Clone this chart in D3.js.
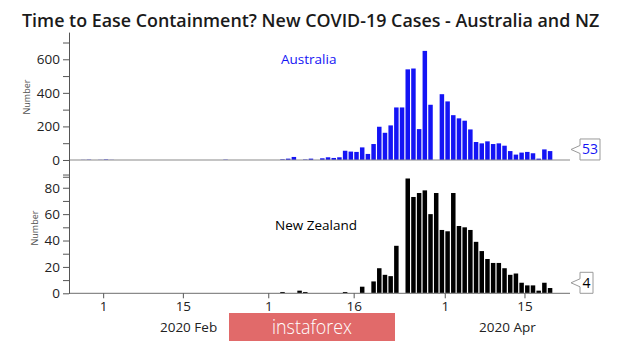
<!DOCTYPE html>
<html>
<head>
<meta charset="utf-8">
<script src="https://cdn.jsdelivr.net/npm/d3@7"></script>
<style>
  body { margin: 0; background: #fff; }
  svg { display: block; }
  text { font-family: "Open Sans", "Noto Sans", sans-serif; }
</style>
</head>
<body>
<svg id="chart" width="620" height="342"></svg>
<script>
// Daily new cases, Australia
const ausDates = ["2020-01-28","2020-01-29","2020-01-31","2020-02-01","2020-02-02","2020-02-22",
  "2020-03-03","2020-03-04","2020-03-05","2020-03-07","2020-03-08","2020-03-10","2020-03-11",
  "2020-03-12","2020-03-13","2020-03-14","2020-03-15","2020-03-16","2020-03-17","2020-03-18",
  "2020-03-19","2020-03-20","2020-03-21","2020-03-22","2020-03-23","2020-03-24","2020-03-25",
  "2020-03-26","2020-03-27","2020-03-28","2020-03-29","2020-03-30","2020-03-31","2020-04-01",
  "2020-04-02","2020-04-03","2020-04-04","2020-04-05","2020-04-06","2020-04-07","2020-04-08",
  "2020-04-09","2020-04-10","2020-04-11","2020-04-12","2020-04-13","2020-04-14","2020-04-15",
  "2020-04-16","2020-04-17","2020-04-18","2020-04-19"];
const ausCases = [1,2,1,3,1,2,
  4,8,18,3,8,10,16,
  12,16,55,50,48,75,36,
  95,198,162,206,313,313,540,
  545,184,650,329,0,392,349,
  267,248,234,182,107,99,111,
  95,99,85,53,32,44,48,
  40,8,63,53];

// Daily new cases, New Zealand
const nzDates = ["2020-03-03","2020-03-06","2020-03-07","2020-03-14","2020-03-17","2020-03-19",
  "2020-03-20","2020-03-21","2020-03-22","2020-03-23","2020-03-24","2020-03-25","2020-03-26",
  "2020-03-27","2020-03-28","2020-03-29","2020-03-30","2020-03-31","2020-04-01","2020-04-02",
  "2020-04-03","2020-04-04","2020-04-05","2020-04-06","2020-04-07","2020-04-08","2020-04-09",
  "2020-04-10","2020-04-11","2020-04-12","2020-04-13","2020-04-14","2020-04-15","2020-04-16",
  "2020-04-17","2020-04-18","2020-04-19"];
const nzCases = [1,2,1,1,5,9,
  19,14,13,36,0,87,73,
  76,78,60,76,48,47,76,
  51,50,48,39,32,26,23,
  23,19,14,15,8,6,6,
  2,8,4];

// Axis ticks
const dateTicks = ["2020-02-01","2020-02-15","2020-03-01","2020-03-16","2020-04-01","2020-04-15"];
const monthLabels = ["2020 Feb","2020 Apr"];
const monthLabelDates = ["2020-02-16","2020-04-12"];
const ausTicks = [-100,0,100,200,300,400,500,600,700];
const nzTicks = [0,10,20,30,40,50,60,70,80,90];

const parse = d3.utcParse("%Y-%m-%d");
const svg = d3.select("#chart");

const x = d3.scaleUtc()
  .domain([parse("2020-01-26"), parse("2020-04-23")])
  .range([69, 570]);
const dayW = x(parse("2020-01-27")) - x(parse("2020-01-26"));

const yA = d3.scaleLinear().domain([-108, 762]).range([178.1, 32.1]);
const yN = d3.scaleLinear().domain([0, 92]).range([293.3, 171.9]);

// Title
const title = svg.append("text")
  .attr("x", 22).attr("y", 27)
  .attr("font-size", 17.5).attr("font-weight", 600).attr("fill", "#1a1a1a")
  .text("Time to Ease Containment? New COVID-19 Cases - Australia and NZ");
const tw = title.node().getComputedTextLength();
title.attr("font-size", 17.5 * 578 / tw);

function panel(dates, values, y, ticks, labelEvery, color, name, nameX, nameY, numX, numY) {
  const g = svg.append("g");
  const y0 = y(0);

  // bars
  g.selectAll("rect.bar").data(dates.map((d, i) => ({ d: parse(d), v: values[i] })))
    .join("rect").attr("class", "bar")
    .attr("x", p => x(p.d) + 0.6)
    .attr("width", dayW - 1.2)
    .attr("y", p => y(p.v))
    .attr("height", p => y0 - y(p.v))
    .attr("fill", color);

  // baseline
  g.append("line").attr("x1", 69).attr("x2", 570).attr("y1", y0).attr("y2", y0)
    .attr("stroke", "#8a8a8a").attr("stroke-width", 1.2);

  // y axis
  const ax = g.append("g").attr("transform", "translate(69,0)")
    .call(d3.axisLeft(y).tickValues(ticks).tickSize(6).tickPadding(3).tickSizeOuter(0)
      .tickFormat(v => (v >= 0 && v % labelEvery === 0) ? v : ""));
  ax.select(".domain").attr("stroke", "#555");
  ax.selectAll(".tick line").attr("stroke", "#555");
  ax.selectAll(".tick text").attr("font-size", 13.5).attr("fill", "#222")
    .attr("font-family", "\"Open Sans\", sans-serif");

  // axis title
  g.append("text").attr("transform", `translate(${numX},${numY}) rotate(-90)`)
    .attr("text-anchor", "middle").attr("font-size", 9).attr("fill", "#555")
    .text("Number");

  // series name
  g.append("text").attr("x", nameX).attr("y", nameY)
    .attr("font-size", 13.5).attr("fill", color).text(name);

  // last value callout
  const last = values[values.length - 1];
  const bw = String(last).length > 1 ? 20 : 13;
  const bx = 580, top = y0 - 21, bot = y0, cy = y0 - 10.5, tip = bx - 9;
  g.append("path")
    .attr("d", `M${tip},${cy} L${bx},${cy - 4} L${bx},${top} L${bx + bw},${top} L${bx + bw},${bot} L${bx},${bot} L${bx},${cy + 4} Z`)
    .attr("fill", "#fff").attr("stroke", "#9a9a9a").attr("stroke-width", 1);
  g.append("text").attr("x", bx + bw / 2).attr("y", cy + 5)
    .attr("text-anchor", "middle").attr("font-size", 14).attr("fill", color)
    .text(last);
  return g;
}

panel(ausDates, ausCases, yA, ausTicks, 200, "#1414f5", "Australia", 281, 64, 30, 97);
panel(nzDates, nzCases, yN, nzTicks, 20, "#000", "New Zealand", 275, 230, 38, 228);

// date axis under the lower panel
const xa = svg.append("g").attr("transform", `translate(0,${yN(0)})`)
  .call(d3.axisBottom(x).tickValues(dateTicks.map(parse)).tickSize(5).tickPadding(3)
    .tickSizeOuter(0).tickFormat(d3.utcFormat("%-d")));
xa.select(".domain").remove();
xa.selectAll(".tick line").attr("stroke", "#555");
xa.selectAll(".tick text").attr("font-size", 13.5).attr("fill", "#222")
  .attr("font-family", "\"Open Sans\", sans-serif");

svg.selectAll("text.month").data(monthLabels).join("text").attr("class", "month")
  .attr("x", (m, i) => x(parse(monthLabelDates[i])))
  .attr("y", 332).attr("text-anchor", "middle")
  .attr("font-size", 13.5).attr("fill", "#222").text(m => m);

// watermark
svg.append("rect").attr("x", 229).attr("y", 313).attr("width", 166).attr("height", 28)
  .attr("fill", "#e16a6a");
svg.append("text").attr("x", 312).attr("y", 334).attr("text-anchor", "middle")
  .attr("font-family", "Roboto, sans-serif").attr("font-weight", 300)
  .attr("font-size", 21).attr("fill", "#fff").attr("textLength", 80)
  .attr("lengthAdjust", "spacingAndGlyphs").text("instaforex");
</script>
</body>
</html>
